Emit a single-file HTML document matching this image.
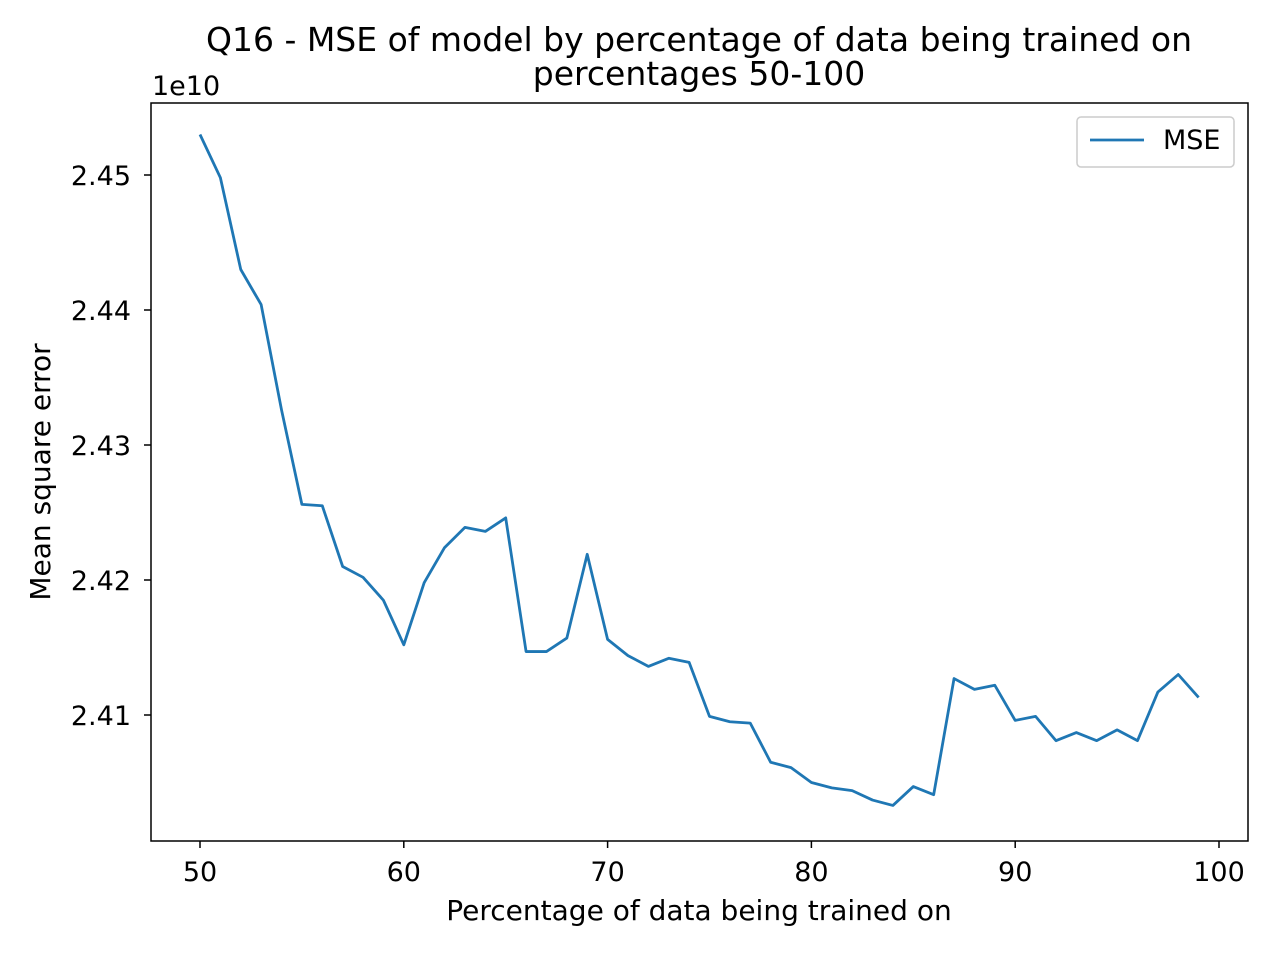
<!DOCTYPE html>
<html><head><meta charset="utf-8"><style>
html,body{margin:0;padding:0;background:#fff;}
svg{display:block;font-family:"DejaVu Sans","Liberation Sans",sans-serif;}
</style></head><body>
<svg id="chart" width="1275" height="953" viewBox="0 0 1275 953"></svg>
<script>
const xValues=[50,51,52,53,54,55,56,57,58,59,60,61,62,63,64,65,66,67,68,69,70,71,72,73,74,75,76,77,78,79,80,81,82,83,84,85,86,87,88,89,90,91,92,93,94,95,96,97,98,99];
const mseValues=[2.453,2.4498,2.443,2.4404,2.4326,2.4256,2.4255,2.421,2.4202,2.4185,2.4152,2.4198,2.4224,2.4239,2.4236,2.4246,2.4147,2.4147,2.4157,2.4219,2.4156,2.4144,2.4136,2.4142,2.4139,2.4099,2.4095,2.4094,2.4065,2.4061,2.405,2.4046,2.4044,2.4037,2.4033,2.4047,2.4041,2.4127,2.4119,2.4122,2.4096,2.4099,2.4081,2.4087,2.4081,2.4089,2.4081,2.4117,2.413,2.4113];
const xTicks=[50,60,70,80,90,100];
const yTicks=[2.41,2.42,2.43,2.44,2.45];
const yTickLabels=["2.41","2.42","2.43","2.44","2.45"];

const svg=document.getElementById('chart');
const NS='http://www.w3.org/2000/svg';
const L=151,T=103,R=1248,B=841;
const xs=v=>200+(v-50)*(1219-200)/50;
const ys=v=>175+(2.45-v)*13500;
function mk(tag,attrs,text){const e=document.createElementNS(NS,tag);for(const k in attrs)e.setAttribute(k,attrs[k]);if(text!==undefined)e.textContent=text;svg.appendChild(e);return e;}

let e;
e=mk('text',{x:699,y:51,'text-anchor':'middle','font-size':33,fill:'#000'},'Q16 - MSE of model by percentage of data being trained on');


e=mk('text',{x:699,y:85,'text-anchor':'middle','font-size':33,fill:'#000'},'percentages 50-100');


e=mk('text',{x:152,y:95,'font-size':27,fill:'#000'},'1e10');



xTicks.forEach(t=>{const x=xs(t);
 e=mk('line',{x1:x,x2:x,y1:B,y2:B+7,stroke:'#000','stroke-width':1.5});
 
 
 e=mk('text',{x:x,y:B+40,'text-anchor':'middle','font-size':27,fill:'#000'},String(t));
 
 
});
yTicks.forEach((t,i)=>{const y=ys(t);
 e=mk('line',{x1:L-7,x2:L,y1:y,y2:y,stroke:'#000','stroke-width':1.5});
 
 
 e=mk('text',{x:L-20,y:y+10,'text-anchor':'end','font-size':27,fill:'#000'},yTickLabels[i]);
 
 
});

e=mk('polyline',{points:xValues.map((v,i)=>xs(v)+','+ys(mseValues[i])).join(' '),fill:'none',stroke:'#1f77b4','stroke-width':2.8,'stroke-linejoin':'round'});



e=mk('rect',{x:L,y:T,width:R-L,height:B-T,fill:'none',stroke:'#000','stroke-width':1.5});



e=mk('text',{x:699,y:920,'text-anchor':'middle','font-size':28,fill:'#000'},'Percentage of data being trained on');


e=mk('text',{x:50,y:472,'text-anchor':'middle','font-size':28,fill:'#000',transform:'rotate(-90 50 472)'},'Mean square error');



e=mk('rect',{x:1077,y:117,width:157,height:50,rx:4,fill:'#fff',stroke:'#ccc','stroke-width':1.5});


e=mk('line',{x1:1090,x2:1144,y1:140,y2:140,stroke:'#1f77b4','stroke-width':2.8});


e=mk('text',{x:1163,y:149,'font-size':27,fill:'#000'},'MSE');


</script>
</body></html>
